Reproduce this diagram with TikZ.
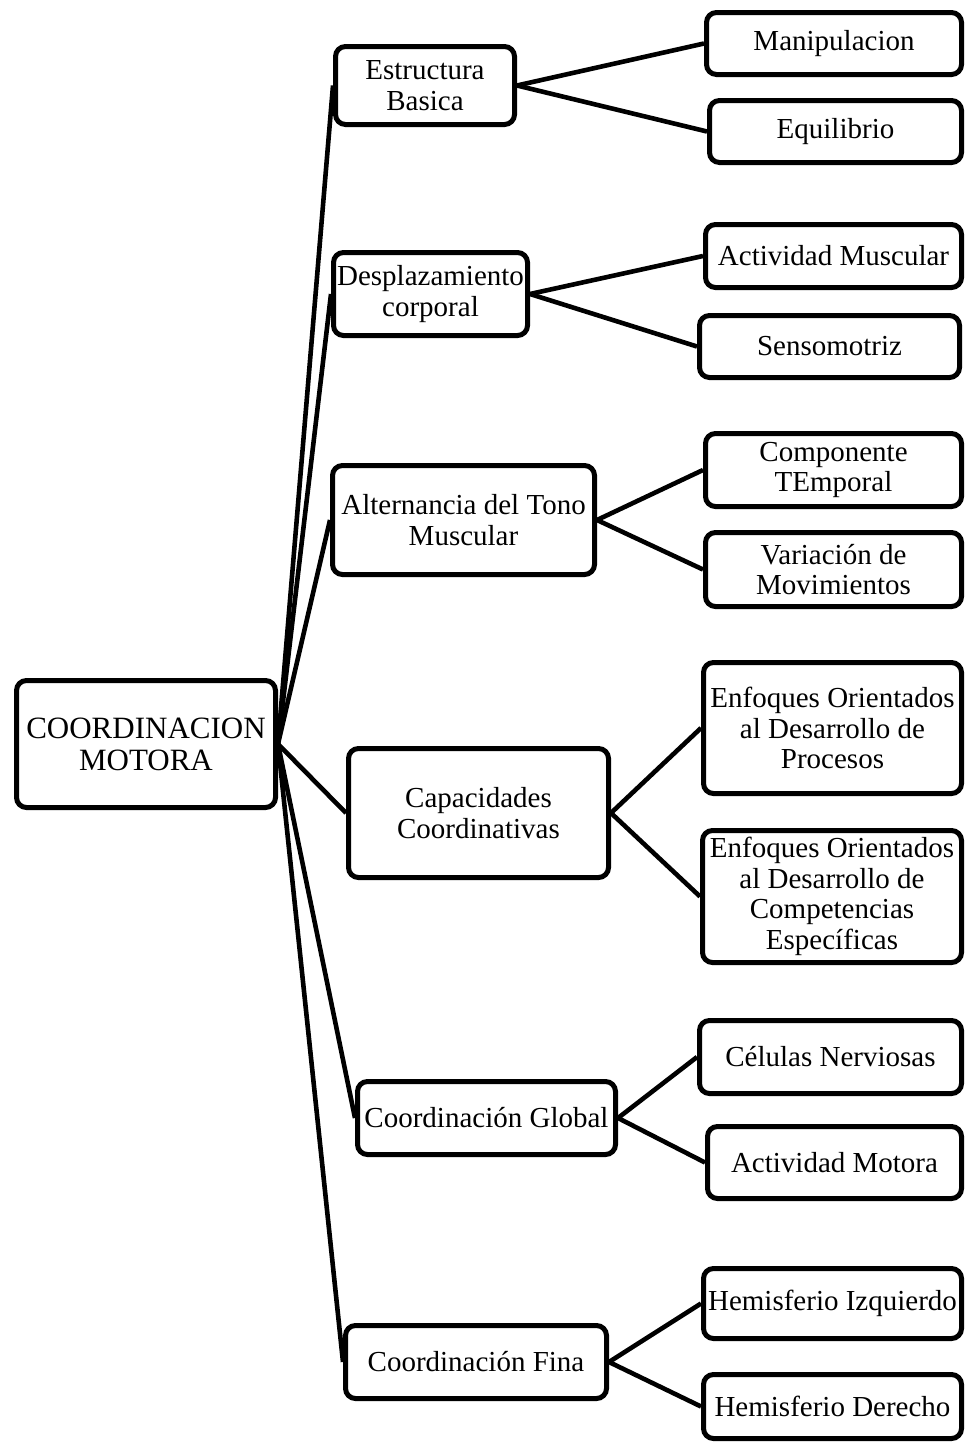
\documentclass[tikz,border=0pt]{standalone}
\usepackage{fontspec}
\setmainfont{Liberation Serif}
\newcommand\fsbox{\fontsize{29}{30.5}\selectfont}
\newcommand\fsroot{\fontsize{31}{32}\selectfont}
\tikzset{
  box/.style={draw, line width=5pt, rounded corners=10pt, align=center, inner sep=0pt, font=\fsbox},
  rootbox/.style={box, font=\fsroot},
  link/.style={line width=4.6pt},
}
\begin{document}
\begin{tikzpicture}[x=1pt,y=-1pt]
\useasboundingbox (0,0) rectangle (966,1443);
% root
\node[rootbox, minimum width=259pt, minimum height=127pt] (root) at (146,744) {COORDINACION\\MOTORA};
% level 1
\node[box, minimum width=179pt, minimum height=78pt] (es) at (425,85.5) {Estructura\\Basica};
\node[box, minimum width=194pt, minimum height=83pt] (des) at (430.5,294) {Desplazamiento\\corporal};
\node[box, minimum width=262pt, minimum height=109pt] (alt) at (463.5,520) {Alternancia del Tono\\Muscular};
\node[box, minimum width=260pt, minimum height=129pt] (cap) at (478.5,813) {Capacidades\\Coordinativas};
\node[box, minimum width=258pt, minimum height=73pt] (cg) at (486.5,1118) {Coordinación Global};
\node[box, minimum width=261pt, minimum height=73pt] (cf) at (476,1362) {Coordinación Fina};
% level 2
\node[box, minimum width=255pt, minimum height=62pt] (man) at (834,43.5) {Manipulacion};
\node[box, minimum width=252pt, minimum height=62pt] (equ) at (835.5,131.5) {Equilibrio};
\node[box, minimum width=256pt, minimum height=63pt] (am) at (833.5,256) {Actividad Muscular};
\node[box, minimum width=260pt, minimum height=62pt] (sen) at (829.5,346.5) {Sensomotriz};
\node[box, minimum width=256pt, minimum height=73pt] (ct) at (833.5,470) {Componente\\TEmporal};
\node[box, minimum width=256pt, minimum height=74pt] (vm) at (833.5,569.5) {Variación de\\Movimientos};
\node[box, minimum width=258pt, minimum height=131pt] (e1) at (832.5,728) {Enfoques Orientados\\al Desarrollo de\\Procesos};
\node[box, minimum width=259pt, minimum height=132pt] (e2) at (832,896.5) {Enfoques Orientados\\al Desarrollo de\\Competencias\\Específicas};
\node[box, minimum width=262pt, minimum height=73pt] (cn) at (830.5,1057) {Células Nerviosas};
\node[box, minimum width=254pt, minimum height=72pt] (amo) at (834.5,1162.5) {Actividad Motora};
\node[box, minimum width=258pt, minimum height=70pt] (hi) at (832.5,1303.5) {Hemisferio Izquierdo};
\node[box, minimum width=258pt, minimum height=64pt] (hd) at (832.5,1406.5) {Hemisferio Derecho};
% connectors
\foreach \n in {es,des,alt,cap,cg,cf} \draw[link] (root.east) -- (\n.west);
\draw[link] (es.east) -- (man.west);
\draw[link] (es.east) -- (equ.west);
\draw[link] (des.east) -- (am.west);
\draw[link] (des.east) -- (sen.west);
\draw[link] (alt.east) -- (ct.west);
\draw[link] (alt.east) -- (vm.west);
\draw[link] (cap.east) -- (e1.west);
\draw[link] (cap.east) -- (e2.west);
\draw[link] (cg.east) -- (cn.west);
\draw[link] (cg.east) -- (amo.west);
\draw[link] (cf.east) -- (hi.west);
\draw[link] (cf.east) -- (hd.west);
\end{tikzpicture}
\end{document}
